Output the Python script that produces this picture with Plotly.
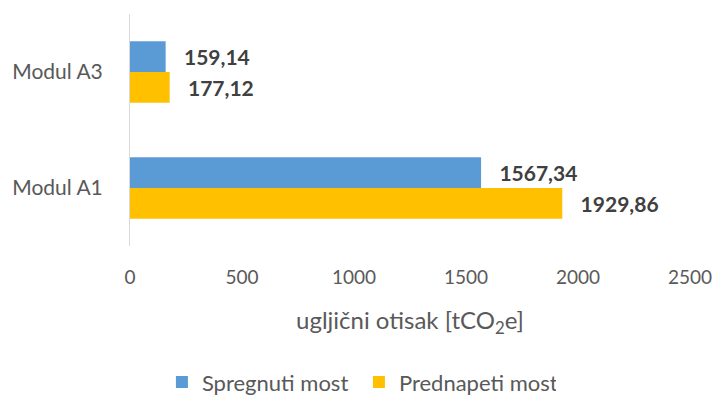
import plotly.graph_objects as go

categories = ["Modul A3", "Modul A1"]
spregnuti = [159.14, 1567.34]
prednapeti = [177.12, 1929.86]
series_names = ["Spregnuti most", "Prednapeti most"]
x_ticks = [0, 500, 1000, 1500, 2000, 2500]

FONT = "Lato"
GRAY = "#595959"
pad = "\u00a0\u00a0\u00a0"

fig = go.Figure()
for name, vals, color in [
    (series_names[0], spregnuti, "#5b9bd5"),
    (series_names[1], prednapeti, "#ffc000"),
]:
    fig.add_trace(go.Bar(
        y=categories, x=vals, name=name, orientation="h",
        marker=dict(color=color, line=dict(width=0)),
        texttemplate=pad + "%{x:.2f}", textposition="outside",
        textfont=dict(family=FONT, size=21, color="#404040", weight="bold"),
        cliponaxis=False,
    ))

fig.update_layout(
    width=713, height=396,
    margin=dict(l=130, r=23, t=14, b=150, autoexpand=False),
    plot_bgcolor="white", paper_bgcolor="white",
    separators=",.",
    barmode="group", bargap=0.47, bargroupgap=0,
    font=dict(family=FONT, size=19, color=GRAY),
    showlegend=True,
    legend=dict(orientation="h", x=0.057, xanchor="left",
                yref="container", y=0.035, yanchor="middle",
                entrywidth=152, entrywidthmode="pixels",
                font=dict(family=FONT, size=22, color=GRAY), itemwidth=30,
                traceorder="normal"),
    xaxis=dict(range=[0, 2500], tickvals=x_ticks, showgrid=False, zeroline=False,
               showline=False, ticks="", ticklabelstandoff=18,
               tickfont=dict(size=19, color=GRAY),
               title=dict(text="ugljični otisak [tCO<sub>2</sub>e]",
                          font=dict(size=24, color=GRAY), standoff=25)),
    yaxis=dict(autorange="reversed", showgrid=False, showline=True, linecolor="#d9d9d9",
               linewidth=1, ticks="", ticklabelstandoff=22,
               tickfont=dict(size=21, color=GRAY)),
)

fig.write_html("out.html")
